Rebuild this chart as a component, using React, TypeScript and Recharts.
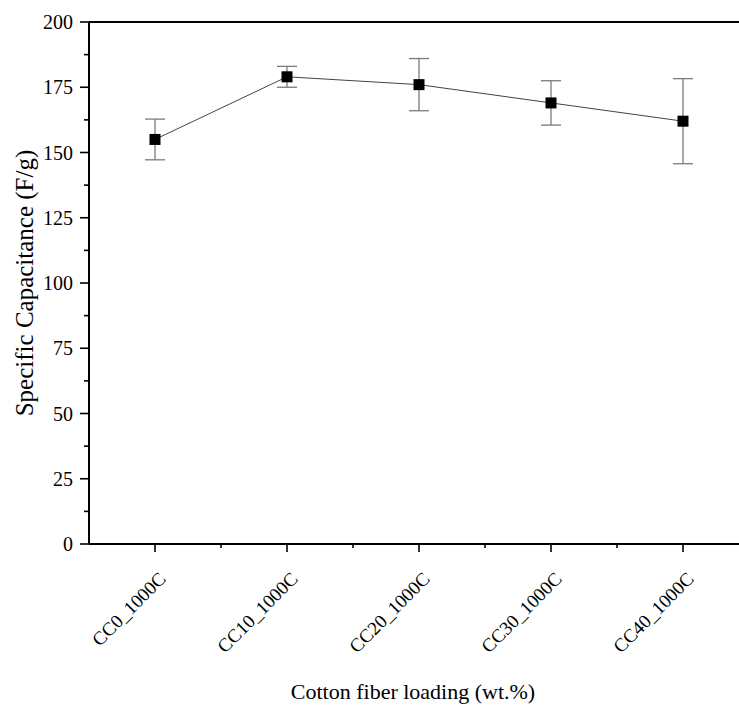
import { LineChart, Line, XAxis, YAxis, ErrorBar, ReferenceLine } from 'recharts';

const samples = ['CC0_1000C', 'CC10_1000C', 'CC20_1000C', 'CC30_1000C', 'CC40_1000C'];
const capacitance = [155, 179, 176, 169, 162];
const capacitanceErr = [7.8, 4, 10, 8.5, 16.3];
const yTicks = [0, 12.5, 25, 37.5, 50, 62.5, 75, 87.5, 100, 112.5, 125, 137.5, 150, 162.5, 175, 187.5, 200];
const xTicks = [0, 0.5, 1, 1.5, 2, 2.5, 3, 3.5, 4];

const FONT = '"Liberation Serif", "Times New Roman", serif';

const data = samples.map((name, i) => ({
  idx: i,
  name,
  cap: capacitance[i],
  err: capacitanceErr[i],
}));

const YTick = ({ x, y, payload }: any) => {
  const v = payload.value;
  const major = v % 25 === 0;
  return (
    <g>
      <line x1={x} x2={x - (major ? 9 : 5)} y1={y} y2={y} stroke="#000" strokeWidth={1.6} />
      {major && (
        <text x={x - 16} y={y} dy="0.36em" textAnchor="end" fontFamily={FONT} fontSize={20} fill="#000">
          {v}
        </text>
      )}
    </g>
  );
};

const XTick = ({ x, y, payload }: any) => {
  const v = payload.value;
  const major = Number.isInteger(v);
  const lx = x + 12;
  const ly = y + 36;
  return (
    <g>
      <line x1={x} x2={x} y1={y} y2={y + (major ? 8 : 4)} stroke="#000" strokeWidth={1.6} />
      {major && (
        <text
          x={lx}
          y={ly}
          textAnchor="end"
          transform={`rotate(-45 ${lx} ${ly})`}
          fontFamily={FONT}
          fontSize={19}
          fill="#000"
        >
          {samples[v]}
        </text>
      )}
    </g>
  );
};

const SquareDot = ({ cx, cy, index }: any) => (
  <rect key={`sq-${index}`} x={cx - 5.5} y={cy - 5.5} width={11} height={11} fill="#000" />
);

export default function App() {
  return (
    <div style={{ position: 'fixed', left: 0, top: 0, width: 739, height: 708, overflow: 'hidden', background: '#fff' }}>
      <LineChart width={760} height={708} data={data} margin={{ top: 22, right: 11, left: 0, bottom: 0 }}>
        <XAxis
          dataKey="idx"
          type="number"
          domain={[-0.5, 4.5]}
          ticks={xTicks}
          interval={0}
          height={164}
          tickLine={false}
          tickSize={0}
          tickMargin={0}
          tick={<XTick />}
          axisLine={{ stroke: '#000', strokeWidth: 2 }}
          label={(props: any) => {
            const vb = props.viewBox || { x: 89, y: 544, width: 660, height: 164 };
            return (
              <text x={vb.x + vb.width / 2 - 6} y={vb.y + 155} textAnchor="middle" fontFamily={FONT} fontSize={22} fill="#000">
                Cotton fiber loading (wt.%)
              </text>
            );
          }}
        />
        <YAxis
          type="number"
          domain={[0, 200]}
          ticks={yTicks}
          interval={0}
          width={89}
          tickLine={false}
          tickSize={0}
          tickMargin={0}
          tick={<YTick />}
          axisLine={{ stroke: '#000', strokeWidth: 2 }}
          label={(props: any) => {
            const vb = props.viewBox || { x: 0, y: 22, width: 89, height: 522 };
            const cx = vb.x + 33;
            const cy = vb.y + vb.height / 2;
            return (
              <text x={cx} y={cy} textAnchor="middle" transform={`rotate(-90 ${cx} ${cy})`} fontFamily={FONT} fontSize={25} fill="#000">
                Specific Capacitance (F/g)
              </text>
            );
          }}
        />
        <ReferenceLine y={200} stroke="#000" strokeWidth={2} ifOverflow="visible" />
        <Line
          type="linear"
          dataKey="cap"
          stroke="#444"
          strokeWidth={1}
          dot={<SquareDot />}
          activeDot={false}
          isAnimationActive={false}
        >
          <ErrorBar dataKey="err" direction="y" width={10} stroke="#7a7a7a" strokeWidth={1.3} isAnimationActive={false} />
        </Line>
      </LineChart>
    </div>
  );
}
